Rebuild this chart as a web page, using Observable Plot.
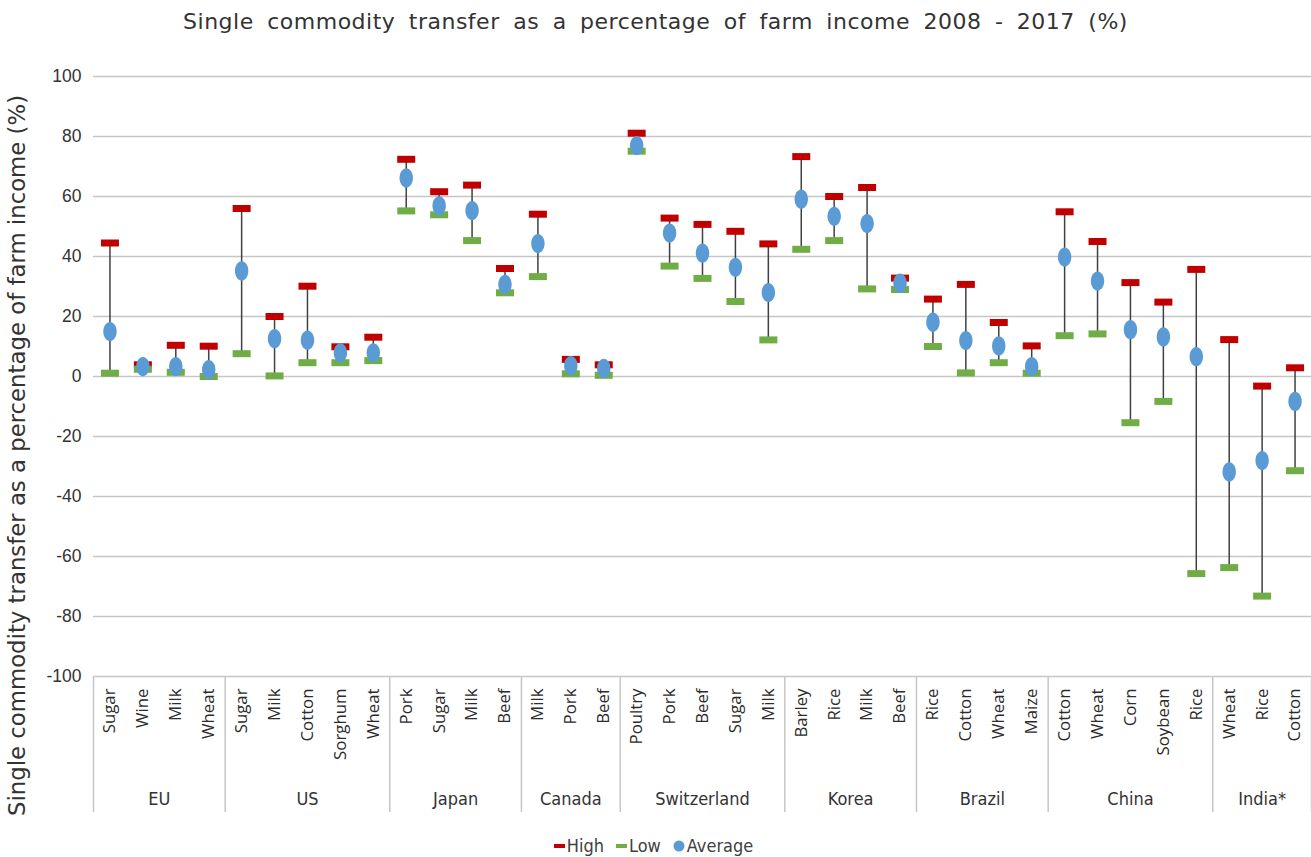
<!DOCTYPE html>
<html>
<head>
<meta charset="utf-8">
<script src="https://cdn.jsdelivr.net/npm/d3@7"></script>
<script src="https://cdn.jsdelivr.net/npm/@observablehq/plot@0.6"></script>
<style>
  body { margin: 0; background: #fff; width: 1311px; overflow: hidden; }
  #title {
    height: 40px; box-sizing: border-box; padding-top: 4px; line-height: 36px;
    text-align: center; font-family: "DejaVu Sans", sans-serif; font-size: 22px;
    color: #333; word-spacing: 6px; letter-spacing: 0.5px; white-space: nowrap;
  }
  #chart svg { overflow: visible; display: block; }
  #legend {
    height: 41px; box-sizing: border-box; padding-top: 19px;
    display: flex; justify-content: center; align-items: center; gap: 12px;
    font-family: "DejaVu Sans Condensed", "DejaVu Sans", sans-serif;
    font-stretch: condensed; font-size: 18px; color: #404040; line-height: 18px;
    padding-right: 4px;
  }
  #legend .item { display: flex; align-items: center; gap: 2px; }
</style>
</head>
<body>
<div id="title">Single commodity transfer as a percentage of farm income 2008 - 2017 (%)</div>
<div id="chart"></div>
<div id="legend"></div>
<script>
// ---------- data ----------
const country = [
  "EU","EU","EU","EU",
  "US","US","US","US","US",
  "Japan","Japan","Japan","Japan",
  "Canada","Canada","Canada",
  "Switzerland","Switzerland","Switzerland","Switzerland","Switzerland",
  "Korea","Korea","Korea","Korea",
  "Brazil","Brazil","Brazil","Brazil",
  "China","China","China","China","China",
  "India*","India*","India*"
];
const commodity = [
  "Sugar","Wine","Milk","Wheat",
  "Sugar","Milk","Cotton","Sorghum","Wheat",
  "Pork","Sugar","Milk","Beef",
  "Milk","Pork","Beef",
  "Poultry","Pork","Beef","Sugar","Milk",
  "Barley","Rice","Milk","Beef",
  "Rice","Cotton","Wheat","Maize",
  "Cotton","Wheat","Corn","Soybean","Rice",
  "Wheat","Rice","Cotton"
];
const high = [
  44.5, 3.9, 10.4, 10.1,
  56.0, 20.0, 30.1, 9.9, 13.1,
  72.4, 61.6, 63.8, 36.0,
  54.1, 5.7, 3.9,
  81.1, 52.8, 50.7, 48.4, 44.2,
  73.3, 60.0, 63.0, 32.8,
  25.8, 30.7, 18.0, 10.2,
  54.9, 45.0, 31.3, 24.8, 35.7,
  12.3, -3.2, 2.9
];
const low = [
  1.1, 2.4, 1.4, 0.0,
  7.6, 0.2, 4.6, 4.6, 5.3,
  55.2, 53.9, 45.3, 27.9,
  33.3, 0.9, 0.4,
  75.1, 36.8, 32.7, 25.0, 12.2,
  42.4, 45.3, 29.2, 29.0,
  10.0, 1.2, 4.6, 1.1,
  13.6, 14.2, -15.4, -8.3, -65.7,
  -63.7, -73.2, -31.4
];
const average = [
  15.0, 3.3, 3.3, 2.3,
  35.2, 12.6, 12.1, 7.9, 7.9,
  66.2, 56.9, 55.3, 30.7,
  44.3, 3.6, 2.7,
  77.0, 47.8, 41.1, 36.4, 28.0,
  59.1, 53.4, 51.0, 31.1,
  18.1, 12.0, 10.2, 3.3,
  39.8, 31.8, 15.6, 13.2, 6.6,
  -31.8, -28.0, -8.3
];
const yTicks = [-100, -80, -60, -40, -20, 0, 20, 40, 60, 80, 100];
const seriesNames = ["High", "Low", "Average"];
const seriesColors = ["#c00000", "#70ad47", "#5b9bd5"];
const yLabel = "Single commodity transfer as a percentage of farm income (%)";

// ---------- derived tables ----------
const rows = commodity.map((c, i) => ({
  pos: i + 0.5, country: country[i], commodity: c,
  high: high[i], low: low[i], avg: average[i]
}));
const groups = [];
country.forEach((g, i) => {
  const last = groups[groups.length - 1];
  if (last && last.name === g) last.end = i + 1;
  else groups.push({name: g, start: i, end: i + 1});
});
groups.forEach(g => g.mid = (g.start + g.end) / 2);
const bounds = [0, ...groups.map(g => g.end)];

// ---------- custom symbols ----------
const barSymbol = { draw(ctx) { ctx.rect(-9, -3.5, 18, 7); } };
const ellipseSymbol = { draw(ctx) {
  const rx = 6.7, ry = 9.6, k = 0.5523;
  ctx.moveTo(rx, 0);
  ctx.bezierCurveTo(rx, ry * k, rx * k, ry, 0, ry);
  ctx.bezierCurveTo(-rx * k, ry, -rx, ry * k, -rx, 0);
  ctx.bezierCurveTo(-rx, -ry * k, -rx * k, -ry, 0, -ry);
  ctx.bezierCurveTo(rx * k, -ry, rx, -ry * k, rx, 0);
  ctx.closePath();
} };

const condensed = "'DejaVu Sans Condensed', 'DejaVu Sans', sans-serif";

const chart = Plot.plot({
  width: 1311,
  height: 776,
  marginTop: 36,
  marginBottom: 140,
  marginLeft: 93,
  marginRight: 0,
  style: { background: "#fff", color: "#404040", fontFamily: "'DejaVu Sans', sans-serif" },
  x: { domain: [0, commodity.length], axis: null },
  y: { domain: [-100, 100], axis: null },
  marks: [
    Plot.ruleY(yTicks, { stroke: "#c6c6c6", strokeWidth: 1.5 }),
    Plot.ruleX(bounds, { x: d => d, stroke: "#c6c6c6", strokeWidth: 1.5, insetTop: 600, insetBottom: -136 }),
    Plot.axisY({
      ticks: yTicks, tickSize: 0, tickPadding: 12, label: null,
      tickFormat: d => String(d),
      fontSize: 17.5, fontFamily: "'Liberation Sans', sans-serif", fill: "#333"
    }),
    Plot.text([yLabel], {
      ariaLabel: "y-label",
      text: d => d, frameAnchor: "left", dx: -76, dy: 79, rotate: -90,
      textAnchor: "middle", lineAnchor: "middle", fontSize: 22.8, fill: "#333"
    }),
    Plot.text(rows, {
      ariaLabel: "category-labels",
      x: "pos", text: "commodity", frameAnchor: "bottom", dy: 12, rotate: -90,
      textAnchor: "end", lineAnchor: "middle", fontSize: 16.8,
      fontFamily: "'Open Sans', sans-serif", fill: "#2b2b2b"
    }),
    Plot.text(groups, {
      x: "mid", text: "name", frameAnchor: "bottom", dy: 123,
      lineAnchor: "middle", fontSize: 18, fontFamily: condensed, fill: "#333"
    }),
    Plot.ruleX(rows, { x: "pos", y1: "low", y2: "high", stroke: "#404040", strokeWidth: 1.5 }),
    Plot.dot(rows, { x: "pos", y: "high", symbol: barSymbol, fill: seriesColors[0], stroke: "none" }),
    Plot.dot(rows, { x: "pos", y: "low", symbol: barSymbol, fill: seriesColors[1], stroke: "none" }),
    Plot.dot(rows, { x: "pos", y: "avg", symbol: ellipseSymbol, fill: seriesColors[2], stroke: "none" })
  ]
});
document.getElementById("chart").appendChild(chart);

// ---------- legend ----------
const legend = document.getElementById("legend");
seriesNames.forEach((name, i) => {
  const item = document.createElement("span");
  item.className = "item";
  const sw = i < 2
    ? `<svg width="11" height="12"><rect x="0" y="4" width="11" height="4" fill="${seriesColors[i]}"/></svg>`
    : `<svg width="12" height="12"><circle cx="6" cy="6" r="5.5" fill="${seriesColors[i]}"/></svg>`;
  item.innerHTML = sw + `<span>${name}</span>`;
  legend.appendChild(item);
});
</script>
</body>
</html>
